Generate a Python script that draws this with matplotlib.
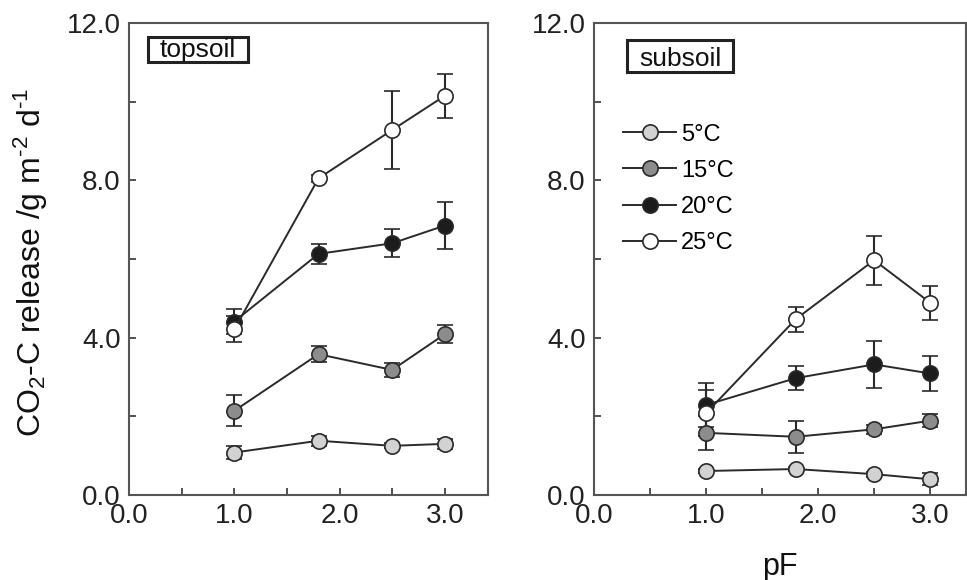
import matplotlib
matplotlib.use("Agg")
import matplotlib.pyplot as plt
from matplotlib.lines import Line2D
from matplotlib.patches import Rectangle
from matplotlib.ticker import MultipleLocator, FormatStrFormatter

plt.rcParams["font.family"] = ["Liberation Sans", "DejaVu Sans"]
plt.rcParams["mathtext.fontset"] = "custom"
plt.rcParams["mathtext.rm"] = "Liberation Sans"
plt.rcParams["mathtext.it"] = "Liberation Sans:italic"

# pF levels (x)
pf = [1.0, 1.8, 2.5, 3.0]
temps = ["5°C", "15°C", "20°C", "25°C"]

# topsoil: mean and error per temperature
top_5 = [1.08, 1.38, 1.25, 1.30]
top_5_err = [0.16, 0.13, 0.06, 0.12]
top_15 = [2.14, 3.58, 3.18, 4.09]
top_15_err = [0.39, 0.20, 0.18, 0.22]
top_20 = [4.41, 6.13, 6.40, 6.85]
top_20_err = [0.32, 0.26, 0.36, 0.60]
top_25 = [4.21, 8.05, 9.28, 10.15]
top_25_err = [0.33, 0.08, 1.00, 0.56]

# subsoil
sub_5 = [0.61, 0.66, 0.53, 0.40]
sub_5_err = [0.06, 0.06, 0.06, 0.15]
sub_15 = [1.58, 1.48, 1.67, 1.89]
sub_15_err = [0.44, 0.40, 0.12, 0.16]
sub_20 = [2.29, 2.97, 3.32, 3.09]
sub_20_err = [0.55, 0.30, 0.60, 0.45]
sub_25 = [2.08, 4.47, 5.97, 4.89]
sub_25_err = [0.59, 0.32, 0.62, 0.43]

face = ["#d2d2d2", "#8c8c8c", "#1c1c1c", "#ffffff"]
edge = "#2a2a2a"

W, H = 967, 580
fig = plt.figure(figsize=(W / 100, H / 100), dpi=100)
ax1 = fig.add_axes([129 / W, 1 - 495 / H, 359 / W, 472 / H])
ax2 = fig.add_axes([594 / W, 1 - 495 / H, 372 / W, 472 / H])

panels = [
    (ax1, [top_5, top_15, top_20, top_25], [top_5_err, top_15_err, top_20_err, top_25_err], 3.41),
    (ax2, [sub_5, sub_15, sub_20, sub_25], [sub_5_err, sub_15_err, sub_20_err, sub_25_err], 3.32),
]

for ax, means, errs, xmax in panels:
    for lab, m, e, fc in zip(temps, means, errs, face):
        ax.errorbar(pf, m, yerr=e, fmt="-o", color=edge, mfc=fc, mec=edge,
                    ms=11, mew=1.2, lw=1.4, elinewidth=1.5, capsize=5.5,
                    capthick=1.5, clip_on=False)
    ax.set_xlim(0, xmax)
    ax.set_ylim(0, 12)
    ax.xaxis.set_major_locator(MultipleLocator(1.0))
    ax.xaxis.set_minor_locator(MultipleLocator(0.5))
    ax.yaxis.set_major_locator(MultipleLocator(4.0))
    ax.yaxis.set_minor_locator(MultipleLocator(2.0))
    ax.xaxis.set_major_formatter(FormatStrFormatter("%.1f"))
    ax.yaxis.set_major_formatter(FormatStrFormatter("%.1f"))
    ax.tick_params(which="both", direction="in", length=5, width=1.2,
                   color="#333333", labelsize=20, labelcolor="#222222")
    ax.tick_params(axis="y", pad=6)
    ax.tick_params(axis="x", pad=6)
    for sp in ax.spines.values():
        sp.set_color("#555555")
        sp.set_linewidth(1.5)

# panel name boxes (pixel positions)
for name, (x0, y0, x1, y1), base in [("topsoil", (148, 37, 248, 62), 57),
                                     ("subsoil", (627, 40, 733, 72), 66)]:
    fig.add_artist(Rectangle((x0 / W, 1 - y1 / H), (x1 - x0) / W, (y1 - y0) / H,
                             transform=fig.transFigure, fc="white",
                             ec="#222222", lw=2.2))
    fig.text((x0 + x1) / 2 / W, 1 - base / H, name, ha="center",
             va="baseline", fontsize=19, color="#111111")

handles = [Line2D([], [], color=edge, lw=1.4, marker="o", ms=11, mfc=fc,
                  mec=edge, mew=1.2) for fc in face]
ax2.legend(handles, temps, loc="upper left", bbox_to_anchor=(0.078, 0.787),
           frameon=False, fontsize=17, handlelength=2.25, handletextpad=0.2,
           labelspacing=0.6, borderpad=0, borderaxespad=0)

fig.text(31 / W, 1 - 262 / H, r"CO$_2$-C release /g m$^{\text{-2}}$ d$^{\text{-1}}$",
         rotation=90, ha="center", va="center", fontsize=23, color="#111111")
ax2.set_xlabel("pF", fontsize=22, color="#111111", labelpad=16)

fig.savefig("out.png", dpi=100)
